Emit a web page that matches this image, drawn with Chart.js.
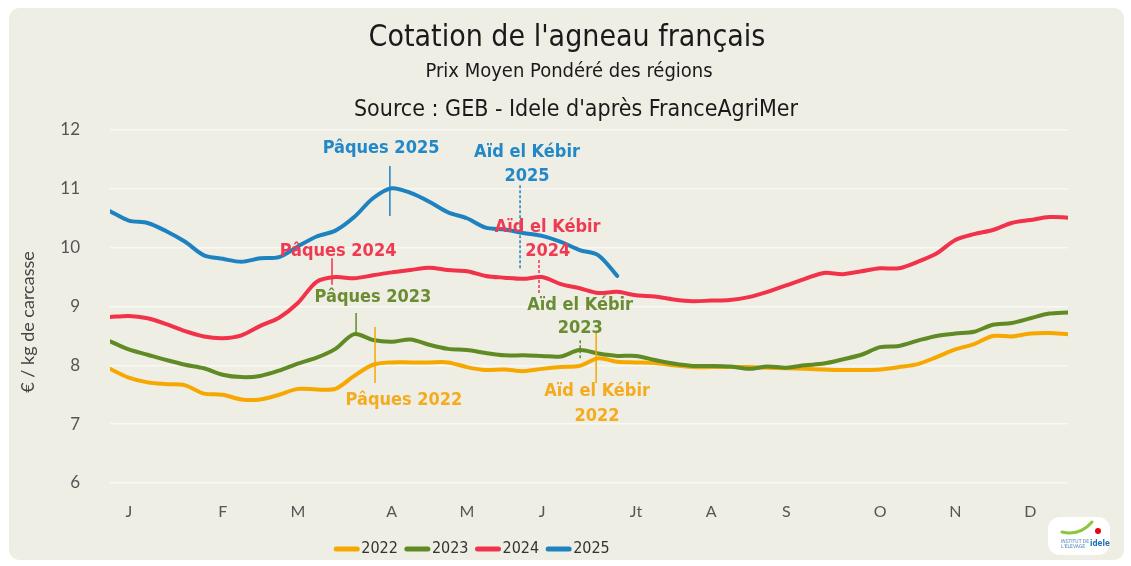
<!DOCTYPE html>
<html lang="fr">
<head>
    <meta charset="UTF-8">
    <title>Cotation de l'agneau français</title>
    <style>
        html, body { margin: 0; padding: 0; background: #ffffff; }
        #wrap { width: 1131px; height: 566px; }
    </style>
</head>
<body>
    <div id="wrap">
        <canvas id="agneauChart" width="1131" height="566"></canvas>
    </div>

    <script src="https://cdn.jsdelivr.net/npm/chart.js"></script>
    <script>
        // Semaines de l'année (1 à 52)
        const weeks = Array.from({ length: 52 }, (_, i) => i + 1);

        // Repères des mois sur l'axe des semaines
        const monthWeeks = [2, 7, 11, 16, 20, 24, 29, 33, 37, 42, 46, 50];
        const monthLabels = ['J', 'F', 'M', 'A', 'M', 'J', 'Jt', 'A', 'S', 'O', 'N', 'D'];

        // Prix moyen pondéré, €/kg de carcasse
        const prix2022 = [7.94, 7.79, 7.71, 7.68, 7.66, 7.52, 7.50, 7.42, 7.42, 7.50, 7.60, 7.59, 7.60,
            7.82, 8.01, 8.05, 8.05, 8.05, 8.05, 7.97, 7.92, 7.93, 7.90, 7.94, 7.97, 7.99, 8.12,
            8.06, 8.05, 8.04, 8.00, 7.97, 7.97, 7.97, 7.97, 7.96, 7.95, 7.94, 7.93, 7.92, 7.92,
            7.93, 7.97, 8.02, 8.14, 8.27, 8.36, 8.50, 8.49, 8.54, 8.55, 8.53];
        const prix2023 = [8.41, 8.27, 8.18, 8.09, 8.01, 7.95, 7.84, 7.80, 7.82, 7.91, 8.03, 8.13, 8.28,
            8.53, 8.43, 8.40, 8.44, 8.35, 8.28, 8.26, 8.21, 8.17, 8.17, 8.16, 8.15, 8.26, 8.20,
            8.16, 8.16, 8.09, 8.03, 7.99, 7.99, 7.98, 7.94, 7.98, 7.96, 8.00, 8.03, 8.10, 8.18,
            8.31, 8.33, 8.42, 8.50, 8.54, 8.57, 8.69, 8.72, 8.80, 8.88, 8.90];
        const prix2024 = [8.82, 8.84, 8.80, 8.70, 8.58, 8.49, 8.46, 8.51, 8.67, 8.81, 9.06, 9.42, 9.50,
            9.48, 9.53, 9.58, 9.62, 9.66, 9.62, 9.60, 9.52, 9.49, 9.47, 9.50, 9.38, 9.31, 9.23,
            9.25, 9.19, 9.17, 9.12, 9.09, 9.10, 9.11, 9.16, 9.25, 9.36, 9.47, 9.57, 9.55, 9.60,
            9.65, 9.65, 9.76, 9.90, 10.13, 10.23, 10.30, 10.42, 10.47, 10.52, 10.51];
        const prix2025 = [10.62, 10.46, 10.42, 10.28, 10.10, 9.87, 9.81, 9.76, 9.82, 9.84, 10.02, 10.19,
            10.29, 10.52, 10.84, 11.01, 10.93, 10.78, 10.60, 10.50, 10.34, 10.31, 10.25, 10.20,
            10.10, 9.96, 9.87, 9.52];

        const years = ['2022', '2023', '2024', '2025'];
        const series = [prix2022, prix2023, prix2024, prix2025];
        const lineColors = ['#f6a800', '#5f8a24', '#f2324b', '#1f82c0'];
        const textColors = ['#f5ab1e', '#6b8c32', '#f03a52', '#2288c8'];

        // Fêtes : semaine du repère, bornes du trait, position et texte de l'étiquette
        const events = [
            { year: 3, week: 15.9, from: 10.54, to: 11.39, dashed: false, lx: 15.43, ly: [11.69], text: ['Pâques 2025'] },
            { year: 3, week: 22.83, from: 9.65, to: 11.07, dashed: true, lx: 23.2, ly: [11.62, 11.21], text: ['Aïd el Kébir', '2025'] },
            { year: 2, week: 12.82, from: 9.37, to: 9.82, dashed: false, lx: 13.14, ly: [9.94], text: ['Pâques 2024'] },
            { year: 2, week: 23.84, from: 9.23, to: 9.79, dashed: true, lx: 24.3, ly: [10.34, 9.94], text: ['Aïd el Kébir', '2024'] },
            { year: 1, week: 14.1, from: 8.55, to: 8.89, dashed: false, lx: 15.0, ly: [9.16], text: ['Pâques 2023'] },
            { year: 1, week: 26.03, from: 8.12, to: 8.46, dashed: true, lx: 26.03, ly: [9.02, 8.63], text: ['Aïd el Kébir', '2023'] },
            { year: 0, week: 15.11, from: 7.70, to: 8.65, dashed: false, lx: 16.65, ly: [7.41], text: ['Pâques 2022'] },
            { year: 0, week: 26.88, from: 7.70, to: 8.55, dashed: false, lx: 26.93, ly: [7.55, 7.14], text: ['Aïd el Kébir', '2022'] }
        ];

        const narrow = "'Liberation Sans Narrow', 'DejaVu Sans Condensed', Roboto, sans-serif";

        const datasets = years.map((label, k) => ({
            label: label,
            data: series[k].map((v, i) => ({ x: weeks[i], y: v })),
            borderColor: lineColors[k],
            backgroundColor: lineColors[k],
            borderWidth: 4,
            pointRadius: 0,
            tension: 0.3,
            borderCapStyle: 'round',
            borderJoinStyle: 'round',
            order: 4 - k
        }));

        // Fond beige arrondi
        const backgroundPlugin = {
            id: 'fond',
            beforeDraw(chart) {
                const c = chart.ctx;
                c.save();
                c.fillStyle = '#eeeee4';
                c.beginPath();
                c.roundRect(9, 8, 1115, 552, 10);
                c.fill();
                c.restore();
            }
        };

        // Titres, légende, fêtes et logo
        const decorPlugin = {
            id: 'decor',
            afterDatasetsDraw(chart) {
                const c = chart.ctx;
                const xs = chart.scales.x;
                const ys = chart.scales.y;
                c.save();

                events.forEach(ev => {
                    const x = xs.getPixelForValue(ev.week);
                    c.strokeStyle = lineColors[ev.year];
                    c.lineWidth = 1.5;
                    c.setLineDash(ev.dashed ? [3, 2] : []);
                    c.beginPath();
                    c.moveTo(x, ys.getPixelForValue(ev.from));
                    c.lineTo(x, ys.getPixelForValue(ev.to));
                    c.stroke();
                    c.setLineDash([]);

                    c.fillStyle = textColors[ev.year];
                    c.font = "bold 18px " + narrow;
                    c.textAlign = 'center';
                    c.textBaseline = 'middle';
                    ev.text.forEach((t, j) => {
                        c.fillText(t, xs.getPixelForValue(ev.lx), ys.getPixelForValue(ev.ly[j]));
                    });
                });
                c.restore();
            },
            afterDraw(chart) {
                const c = chart.ctx;
                c.save();
                c.textAlign = 'center';
                c.textBaseline = 'middle';
                c.fillStyle = '#1a1a1a';
                c.font = "30px " + narrow;
                c.fillText("Cotation de l'agneau français", 567, 38);
                c.font = "20px " + narrow;
                c.fillText('Prix Moyen Pondéré des régions', 569, 72);
                c.font = "23px " + narrow;
                c.fillText("Source : GEB - Idele d'après FranceAgriMer", 576, 110);

                // Titre de l'axe des prix
                c.save();
                c.translate(28, 322);
                c.rotate(-Math.PI / 2);
                c.fillStyle = '#444444';
                c.font = "18px Lato";
                c.fillText('€ / kg de carcasse', 0, 0);
                c.restore();

                // Légende
                c.font = "16px " + narrow;
                c.textAlign = 'left';
                const widths = chart.data.datasets.map(d => c.measureText(d.label).width);
                const sw = 25, gap = 2, space = 7;
                const total = widths.reduce((a, w) => a + sw + gap + w, 0) + space * (widths.length - 1);
                let lx = 472 - total / 2;
                const ly = 549;
                chart.data.datasets.forEach((d, k) => {
                    c.strokeStyle = d.borderColor;
                    c.lineWidth = 5;
                    c.lineCap = 'round';
                    c.beginPath();
                    c.moveTo(lx + 2, ly);
                    c.lineTo(lx + sw - 2, ly);
                    c.stroke();
                    c.fillStyle = '#333333';
                    c.fillText(d.label, lx + sw + gap, ly);
                    lx += sw + gap + widths[k] + space;
                });

                // Logo Idele
                c.fillStyle = '#ffffff';
                c.beginPath();
                c.roundRect(1048, 517, 62, 38, 12);
                c.fill();
                c.strokeStyle = '#8cc63f';
                c.lineWidth = 3;
                c.lineCap = 'round';
                c.beginPath();
                c.moveTo(1062, 532);
                c.quadraticCurveTo(1080, 536, 1092, 522);
                c.stroke();
                c.fillStyle = '#e30613';
                c.beginPath();
                c.arc(1098, 531, 3, 0, Math.PI * 2);
                c.fill();
                c.fillStyle = '#1d6fb8';
                c.font = "bold 8px " + narrow;
                c.textAlign = 'left';
                c.fillText('idele', 1090, 544);
                c.fillStyle = '#4a7fb5';
                c.font = "5px " + narrow;
                c.fillText('INSTITUT DE', 1061, 542);
                c.fillText("L'ÉLEVAGE", 1061, 547);
                c.restore();
            }
        };

        const ctx = document.getElementById('agneauChart').getContext('2d');
        const agneauChart = new Chart(ctx, {
            type: 'line',
            data: { datasets: datasets },
            options: {
                responsive: false,
                animation: false,
                layout: { padding: { top: 130, left: 0, right: 63, bottom: 43 } },
                plugins: {
                    legend: { display: false },
                    tooltip: { enabled: false }
                },
                scales: {
                    x: {
                        type: 'linear',
                        min: 1,
                        max: 52,
                        afterBuildTicks(scale) {
                            scale.ticks = monthWeeks.map(v => ({ value: v }));
                        },
                        afterFit(scale) { scale.height = 40; },
                        ticks: {
                            autoSkip: false,
                            maxRotation: 0,
                            padding: 11,
                            color: '#555555',
                            font: { family: 'Lato', size: 16 },
                            callback: (v) => monthLabels[monthWeeks.indexOf(v)]
                        },
                        grid: { display: false },
                        border: { display: false }
                    },
                    y: {
                        min: 6,
                        max: 12,
                        afterFit(scale) { scale.width = 110; },
                        ticks: {
                            stepSize: 1,
                            padding: 30,
                            color: '#555555',
                            font: { family: 'Lato', size: 17 }
                        },
                        grid: { color: 'rgba(255,255,255,0.6)', lineWidth: 1.5, drawTicks: false },
                        border: { display: false }
                    }
                }
            },
            plugins: [backgroundPlugin, decorPlugin]
        });
    </script>
</body>
</html>
